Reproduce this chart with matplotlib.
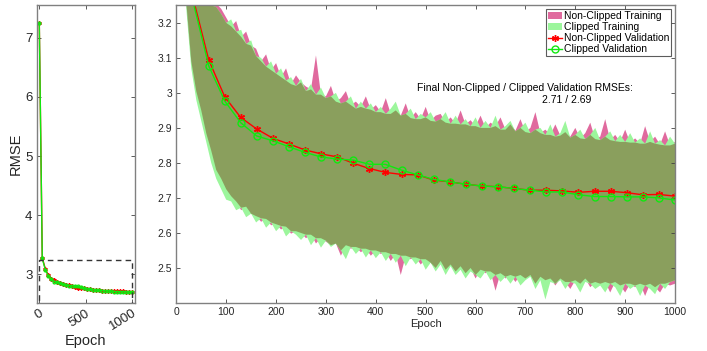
import numpy as np
import matplotlib
matplotlib.use("Agg")
from matplotlib import pyplot as plt

plt.rcParams['font.family'] = ['Liberation Sans', 'DejaVu Sans']

# validation checkpoints
val_epochs = [0, 32, 65, 97, 129, 161, 194, 226, 258, 290, 323, 355, 387, 419, 452, 484,
              516, 548, 581, 613, 645, 677, 710, 742, 774, 806, 839, 871, 903, 935, 968, 1000]
val_nonclipped = [7.25, 3.28, 3.094, 2.989, 2.930, 2.897, 2.870, 2.854, 2.837, 2.826, 2.817,
                  2.799, 2.784, 2.773, 2.767, 2.766, 2.751, 2.746, 2.739, 2.734, 2.732, 2.727,
                  2.722, 2.722, 2.720, 2.716, 2.719, 2.719, 2.715, 2.709, 2.710, 2.705]
val_clipped = [7.25, 3.27, 3.077, 2.977, 2.915, 2.877, 2.863, 2.846, 2.830, 2.817, 2.811,
               2.808, 2.796, 2.796, 2.779, 2.766, 2.753, 2.746, 2.739, 2.734, 2.732, 2.727,
               2.722, 2.717, 2.717, 2.709, 2.704, 2.704, 2.703, 2.703, 2.700, 2.694]

# training RMSE band (upper / lower edge), every 10 epochs
train_epochs = np.arange(0, 1001, 10)
upper_nonclipped = [4.50, 4.05, 3.83, 3.63, 3.48, 3.39, 3.33, 3.28, 3.255, 3.24,
                    3.215, 3.19, 3.205, 3.16, 3.175, 3.135, 3.126, 3.09, 3.11, 3.065,
                    3.085, 3.045, 3.07, 3.025, 3.05, 3.03, 3.018, 3.01, 3.107, 2.995,
                    2.99, 3.02, 2.975, 2.985, 3.005, 2.965, 2.975, 2.96, 2.99, 2.952,
                    2.965, 2.945, 2.985, 2.94, 2.95, 2.935, 2.97, 2.928, 2.945, 2.925,
                    2.96, 2.92, 2.935, 2.94, 2.915, 2.93, 2.912, 2.95, 2.91, 2.922,
                    2.905, 2.935, 2.9, 2.915, 2.905, 2.93, 2.895, 2.91, 2.892, 2.925,
                    2.888, 2.9, 2.945, 2.885, 2.895, 2.88, 2.91, 2.878, 2.888, 2.875,
                    2.9, 2.87, 2.885, 2.915, 2.868, 2.875, 2.925, 2.865, 2.88, 2.86,
                    2.895, 2.858, 2.87, 2.855, 2.905, 2.86, 2.875, 2.852, 2.89, 2.85, 2.86]
upper_clipped = [4.48, 4.03, 3.81, 3.61, 3.47, 3.37, 3.31, 3.25, 3.245, 3.225,
                 3.2, 3.21, 3.175, 3.18, 3.14, 3.15, 3.105, 3.1, 3.075, 3.09,
                 3.055, 3.07, 3.035, 3.045, 3.02, 3.04, 3.005, 3.025, 2.995, 3.015,
                 2.985, 2.99, 3.0, 2.97, 2.975, 2.99, 2.955, 2.975, 2.955, 2.97,
                 2.945, 2.96, 2.94, 2.955, 2.975, 2.935, 2.94, 2.955, 2.925, 2.94,
                 2.93, 2.945, 2.918, 2.925, 2.945, 2.912, 2.935, 2.91, 2.925, 2.905,
                 2.93, 2.9, 2.92, 2.9, 2.935, 2.895, 2.905, 2.92, 2.89, 2.9,
                 2.915, 2.885, 2.895, 2.9, 2.88, 2.91, 2.875, 2.885, 2.92, 2.872,
                 2.88, 2.895, 2.868, 2.88, 2.9, 2.865, 2.875, 2.89, 2.862, 2.88,
                 2.86, 2.885, 2.858, 2.87, 2.855, 2.89, 2.855, 2.865, 2.85, 2.875, 2.855]
lower_nonclipped = [3.90, 3.50, 3.26, 3.09, 3.005, 2.95, 2.885, 2.835, 2.78, 2.755,
                    2.725, 2.705, 2.69, 2.665, 2.675, 2.655, 2.648, 2.632, 2.64, 2.622,
                    2.625, 2.61, 2.618, 2.598, 2.605, 2.6, 2.585, 2.595, 2.57, 2.585,
                    2.575, 2.565, 2.57, 2.535, 2.565, 2.555, 2.56, 2.545, 2.555, 2.535,
                    2.55, 2.54, 2.545, 2.52, 2.54, 2.48, 2.535, 2.525, 2.53, 2.51,
                    2.525, 2.515, 2.5, 2.52, 2.495, 2.51, 2.49, 2.505, 2.485, 2.5,
                    2.47, 2.495, 2.485, 2.49, 2.435, 2.485, 2.47, 2.48, 2.46, 2.48,
                    2.47, 2.48, 2.455, 2.475, 2.465, 2.47, 2.45, 2.47, 2.46, 2.44,
                    2.465, 2.455, 2.47, 2.445, 2.46, 2.455, 2.46, 2.43, 2.46, 2.45,
                    2.43, 2.455, 2.445, 2.455, 2.42, 2.455, 2.445, 2.43, 2.455, 2.45, 2.455]
lower_clipped = [3.88, 3.48, 3.24, 3.07, 2.98, 2.92, 2.86, 2.80, 2.755, 2.725,
                 2.695, 2.69, 2.665, 2.672, 2.645, 2.655, 2.63, 2.642, 2.615, 2.63,
                 2.605, 2.62, 2.59, 2.605, 2.595, 2.58, 2.595, 2.565, 2.585, 2.558,
                 2.578, 2.56, 2.57, 2.55, 2.525, 2.56, 2.54, 2.555, 2.53, 2.55,
                 2.528, 2.545, 2.52, 2.54, 2.515, 2.535, 2.505, 2.53, 2.51, 2.525,
                 2.495, 2.515, 2.49, 2.51, 2.48, 2.505, 2.48, 2.495, 2.47, 2.49,
                 2.48, 2.47, 2.49, 2.465, 2.48, 2.46, 2.475, 2.455, 2.475, 2.45,
                 2.465, 2.475, 2.44, 2.465, 2.41, 2.46, 2.455, 2.465, 2.44, 2.46,
                 2.455, 2.43, 2.46, 2.455, 2.44, 2.45, 2.43, 2.455, 2.445, 2.42,
                 2.455, 2.44, 2.45, 2.42, 2.45, 2.44, 2.425, 2.455, 2.44, 2.46, 2.465]

PINK = '#e06a9e'
LIGHTGREEN = '#9cf69c'
OLIVE = '#8a9f5d'
RED = '#ff0000'
GREEN = '#10e810'
SPINE = '#808080'
TXT = '#262626'
ASTERISK = (6, 2, 0)


def style_axes(ax, fs):
    for s in ax.spines.values():
        s.set_color(SPINE)
        s.set_linewidth(1.0)
    ax.tick_params(direction='in', top=True, right=True, length=3, width=0.6,
                   color='#404040', labelsize=fs, labelcolor=TXT, pad=3)


fig = plt.figure(figsize=(7.07, 3.51), dpi=100)

# ---- overview panel ----
ax0 = fig.add_axes([0.0519, 0.1368, 0.139, 0.848])
ax0.plot(val_epochs, val_nonclipped, color=RED, lw=1, marker=ASTERISK, ms=3)
ax0.plot(val_epochs, val_clipped, color=GREEN, lw=1, marker='o', ms=2, mfc='none')
ax0.plot([0, 0, 1000, 1000], [2.4, 3.25, 3.25, 2.4], color='#333333', lw=1,
         ls=(0, (4, 3)))
ax0.set_xlim(-28, 1031)
ax0.set_ylim(2.516, 7.55)
ax0.set_xticks([0, 500, 1000])
ax0.set_yticks([3, 4, 5, 6, 7])
style_axes(ax0, 9.5)
for lab in ax0.get_xticklabels():
    lab.set_rotation(32)
    lab.set_ha('right')
    lab.set_va('top')
    lab.set_rotation_mode('anchor')
ax0.set_xlabel('Epoch', fontsize=10.5, color=TXT, labelpad=1)
ax0.set_ylabel('RMSE', fontsize=10.5, color=TXT, labelpad=2)

# ---- zoomed panel ----
ax = fig.add_axes([0.2494, 0.1368, 0.7054, 0.848])
ax.fill_between(train_epochs, lower_nonclipped, upper_nonclipped, color=PINK, lw=0,
                label='Non-Clipped Training')
ax.fill_between(train_epochs, lower_clipped, upper_clipped, color=LIGHTGREEN, lw=0,
                label='Clipped Training')
lo = np.maximum(lower_nonclipped, lower_clipped)
hi = np.minimum(upper_nonclipped, upper_clipped)
ax.fill_between(train_epochs, lo, hi, where=hi > lo, interpolate=True, color=OLIVE, lw=0)
ax.plot(val_epochs, val_nonclipped, color=RED, lw=1, marker=ASTERISK, ms=5, mew=1,
        label='Non-Clipped Validation')
ax.plot(val_epochs, val_clipped, color=GREEN, lw=1, marker='o', ms=5, mfc='none',
        mew=1, label='Clipped Validation')
ax.set_xlim(0, 1000)
ax.set_ylim(2.4, 3.25)
ax.set_xticks(np.arange(0, 1001, 100))
ax.set_yticks(np.arange(2.5, 3.21, 0.1))
ax.set_yticklabels(['2.5', '2.6', '2.7', '2.8', '2.9', '3', '3.1', '3.2'])
style_axes(ax, 7.5)
ax.set_xlabel('Epoch', fontsize=8, color=TXT, labelpad=1)

ax.text(482, 3.014, 'Final Non-Clipped / Clipped Validation RMSEs:', fontsize=7.5,
        color='black', ha='left', va='center')
ax.text(783, 2.979, '%.2f / %.2f' % (val_nonclipped[-1], val_clipped[-1]), fontsize=7.5,
        color='black', ha='center', va='center')

leg = ax.legend(loc='upper right', fontsize=7.5, frameon=True, fancybox=False,
                borderpad=0.2, handlelength=1.3, handletextpad=0.2, labelspacing=0.1,
                borderaxespad=0.35, edgecolor='#333333')
leg.get_frame().set_linewidth(0.8)

fig.savefig('out.png', dpi=100)
